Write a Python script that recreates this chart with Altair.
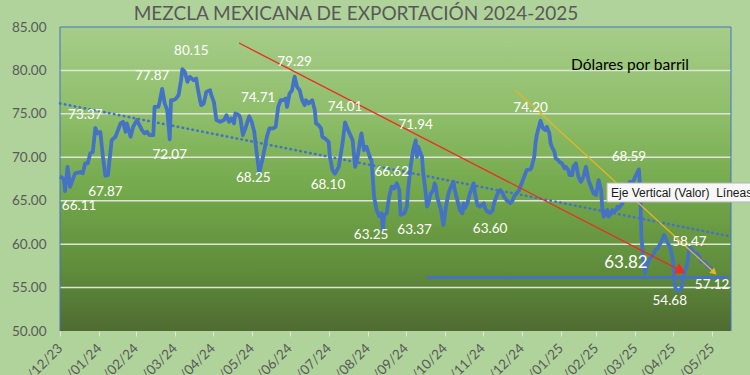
import altair as alt
import pandas as pd

# ---------------- data ----------------
dates = [
    "2023-12-31", "2024-01-03", "2024-01-04", "2024-01-06", "2024-01-08", "2024-01-10", "2024-01-12",
    "2024-01-16", "2024-01-18", "2024-01-20", "2024-01-22", "2024-01-24", "2024-01-26", "2024-01-28",
    "2024-01-30", "2024-02-01", "2024-02-03", "2024-02-05", "2024-02-07", "2024-02-10", "2024-02-13",
    "2024-02-15", "2024-02-17", "2024-02-19", "2024-02-21", "2024-02-22", "2024-02-25", "2024-02-27",
    "2024-03-01", "2024-03-03", "2024-03-05", "2024-03-07", "2024-03-09", "2024-03-11", "2024-03-14",
    "2024-03-15", "2024-03-18", "2024-03-19", "2024-03-21", "2024-03-23", "2024-03-25", "2024-03-27",
    "2024-03-28", "2024-03-30", "2024-04-01", "2024-04-03", "2024-04-05", "2024-04-06", "2024-04-08",
    "2024-04-10", "2024-04-12", "2024-04-15", "2024-04-17", "2024-04-18", "2024-04-20", "2024-04-21",
    "2024-04-23", "2024-04-25", "2024-04-28", "2024-04-29", "2024-05-01", "2024-05-03", "2024-05-06",
    "2024-05-09", "2024-05-11", "2024-05-13", "2024-05-15", "2024-05-17", "2024-05-18", "2024-05-21",
    "2024-05-22", "2024-05-24", "2024-05-26", "2024-05-28", "2024-05-29", "2024-05-31", "2024-06-02",
    "2024-06-04", "2024-06-06", "2024-06-09", "2024-06-12", "2024-06-14", "2024-06-17", "2024-06-19",
    "2024-06-21", "2024-06-23", "2024-06-25", "2024-06-27", "2024-06-28", "2024-06-30", "2024-07-02",
    "2024-07-04", "2024-07-06", "2024-07-08", "2024-07-10", "2024-07-12", "2024-07-13", "2024-07-15",
    "2024-07-18", "2024-07-20", "2024-07-21", "2024-07-23", "2024-07-25", "2024-07-26", "2024-07-28",
    "2024-07-31", "2024-08-01", "2024-08-03", "2024-08-05", "2024-08-08", "2024-08-11", "2024-08-13",
    "2024-08-16", "2024-08-19", "2024-08-21", "2024-08-23", "2024-08-25", "2024-08-26", "2024-08-28",
    "2024-08-30", "2024-09-02", "2024-09-03", "2024-09-05", "2024-09-07", "2024-09-09", "2024-09-11",
    "2024-09-12", "2024-09-13", "2024-09-15", "2024-09-17", "2024-09-19", "2024-09-21", "2024-09-23",
    "2024-09-25", "2024-09-26", "2024-09-29", "2024-10-01", "2024-10-02", "2024-10-04", "2024-10-06",
    "2024-10-08", "2024-10-09", "2024-10-10", "2024-10-12", "2024-10-13", "2024-10-14", "2024-10-16",
    "2024-10-17", "2024-10-18", "2024-10-20", "2024-10-22", "2024-10-23", "2024-10-24", "2024-10-25",
    "2024-10-28", "2024-10-30", "2024-11-01", "2024-11-03", "2024-11-05", "2024-11-07", "2024-11-08",
    "2024-11-10", "2024-11-12", "2024-11-14", "2024-11-15", "2024-11-16", "2024-11-18", "2024-11-20",
    "2024-11-23", "2024-11-24", "2024-11-26", "2024-11-28", "2024-12-01", "2024-12-02", "2024-12-04",
    "2024-12-06", "2024-12-08", "2024-12-09", "2024-12-12", "2024-12-14", "2024-12-16", "2024-12-17",
    "2024-12-19", "2024-12-22", "2024-12-24", "2024-12-25", "2024-12-27", "2024-12-29", "2024-12-31",
    "2025-01-02", "2025-01-04", "2025-01-07", "2025-01-08", "2025-01-10", "2025-01-11", "2025-01-12",
    "2025-01-13", "2025-01-15", "2025-01-17", "2025-01-19", "2025-01-20", "2025-01-22", "2025-01-23",
    "2025-01-24", "2025-01-26", "2025-01-27", "2025-01-29", "2025-01-30", "2025-02-01", "2025-02-03",
    "2025-02-04", "2025-02-06", "2025-02-07", "2025-02-09", "2025-02-10", "2025-02-12", "2025-02-13",
    "2025-02-14", "2025-02-16", "2025-02-18", "2025-02-20", "2025-02-21", "2025-02-22", "2025-02-24",
    "2025-02-25", "2025-02-26", "2025-02-28", "2025-03-01", "2025-03-02", "2025-03-04", "2025-03-05",
    "2025-03-06", "2025-03-08", "2025-03-09", "2025-03-10", "2025-03-12", "2025-03-13", "2025-03-14",
    "2025-03-16", "2025-03-17", "2025-03-18", "2025-03-19", "2025-03-21", "2025-03-22", "2025-03-23",
    "2025-03-25", "2025-03-26", "2025-03-27", "2025-03-29", "2025-03-30", "2025-03-31", "2025-04-02",
    "2025-04-03", "2025-04-04", "2025-04-05", "2025-04-06", "2025-04-07", "2025-04-08", "2025-04-09",
    "2025-04-11", "2025-04-13", "2025-04-15", "2025-04-16", "2025-04-18", "2025-04-20", "2025-04-22",
    "2025-04-23", "2025-04-24", "2025-04-26", "2025-04-28", "2025-04-30", "2025-05-01", "2025-05-02",
    "2025-05-03", "2025-05-06", "2025-05-07", "2025-05-09", "2025-05-10", "2025-05-11", "2025-05-13",
    "2025-05-14", "2025-05-15", "2025-05-17", "2025-05-18", "2025-05-19", "2025-05-21", "2025-05-22",
    "2025-05-23", "2025-05-26", "2025-05-27", "2025-05-29", "2025-05-30", "2025-05-31",
]
prices = [
    67.8, 67.5, 66.11, 68.9, 66.6, 67.4, 68.15,
    68.3, 68.15, 69.3, 69.3, 70.45, 70.6, 73.37,
    72.75, 72.9, 70.1, 67.87, 67.95, 71.98, 72.36,
    73.13, 73.9, 74.08, 72.93, 73.9, 72.36, 73.5,
    74.28, 73.7, 73.13, 72.75, 72.93, 72.55, 72.55,
    75.8, 75.8, 76.38, 77.87, 76.2, 75.43, 72.07,
    76.57, 76.57, 76.77, 77.15, 78.87, 80.15, 79.83,
    78.68, 79.25, 78.87, 79.07, 78.1, 76.57, 76.0,
    76.2, 77.53, 77.72, 77.15, 76.38, 74.28, 74.08,
    74.28, 74.85, 74.08, 74.47, 73.9, 75.05, 74.85,
    74.47, 72.55, 73.32, 74.28, 74.71, 74.08, 72.93,
    70.45, 68.25, 70.06, 72.36, 73.32, 73.32, 73.5,
    75.8, 76.57, 76.57, 76.77, 75.8, 77.34, 77.72,
    79.29, 78.1, 77.72, 76.57, 76.0, 76.57, 76.2,
    76.57, 75.43, 73.9, 73.7, 73.32, 72.36, 72.17,
    71.78, 70.06, 68.53, 68.10, 68.9, 71.6, 74.01,
    72.93, 71.98, 68.9, 70.06, 71.98, 72.75, 70.83,
    71.21, 69.87, 69.68, 65.46, 63.93, 63.25, 63.55,
    61.63, 63.36, 63.55, 65.46, 66.62, 66.42, 67.0,
    66.23, 63.37, 63.55, 64.31, 66.23, 68.9, 70.83,
    71.94, 70.06, 71.21, 70.45, 70.06, 68.15, 65.85,
    64.31, 64.7, 65.85, 66.23, 67.0, 66.61, 65.46,
    63.93, 62.21, 64.31, 65.85, 66.61, 67.18, 66.23,
    65.08, 63.93, 63.55, 64.7, 64.13, 64.7, 65.85,
    67.0, 65.85, 64.5, 64.31, 64.7, 64.13, 63.74,
    63.60, 63.9, 64.7, 65.85, 66.23, 65.85, 65.46,
    65.08, 64.7, 65.08, 65.46, 65.85, 66.23, 67.0,
    67.76, 68.53, 68.61, 68.9, 70.06, 71.6, 72.55,
    73.13, 74.20, 73.32, 73.13, 73.5, 72.75, 71.6,
    71.21, 70.64, 69.87, 69.68, 69.48, 69.3, 68.72,
    68.9, 68.53, 67.95, 67.95, 68.9, 69.3, 68.53,
    67.76, 67.18, 67.76, 68.9, 68.15, 67.38, 66.61,
    66.23, 65.85, 65.66, 66.42, 67.38, 66.23, 64.13,
    63.16, 63.55, 63.93, 63.16, 63.55, 63.93, 63.74,
    63.93, 64.31, 64.13, 64.31, 64.7, 65.46, 65.85,
    66.23, 67.0, 67.18, 67.0, 67.38, 67.76, 68.33,
    68.59, 66.2, 60.86, 58.95, 57.41, 56.65, 57.41,
    58.18, 58.56, 58.95, 59.33, 59.53, 60.1, 60.68,
    61.06, 60.68, 60.1, 59.53, 58.18, 56.26, 54.93,
    54.68, 54.68, 55.11, 56.65, 57.23, 57.41, 59.6,
    59.53, 59.33, 58.95, 58.76, 58.95, 58.56, 57.99,
    57.99, 57.87, 57.41, 57.41, 57.23, 57.12,
]

ann_dates = ["2024-01-04", "2024-01-28", "2024-02-05", "2024-03-21", "2024-03-27", "2024-04-06",
             "2024-05-29", "2024-06-06", "2024-07-04", "2024-08-13", "2024-08-05", "2024-09-09",
             "2024-09-19", "2024-09-26", "2024-10-08", "2024-12-06", "2025-01-15", "2025-04-03",
             "2025-05-03", "2025-05-13", "2025-05-31"]
ann_values = [66.11, 73.37, 67.87, 77.87, 72.07, 80.15,
              74.71, 68.25, 79.29, 74.01, 68.10, 63.25,
              66.62, 63.37, 71.94, 63.60, 74.20, 68.59,
              54.68, 58.47, 57.12]
ann_pos = ["SE", "NW", "S", "NW", "S", "NE",
           "NE", "SW0", "N", "N", "SW", "SW2",
           "N", "SE", "N", "S", "NW", "NW",
           "SW", "N", "S"]
big_ann_date = ["2025-04-07"]
big_ann_value = [63.82]

trend_dates = ["2023-12-31", "2025-06-13"]
trend_values = [76.2, 60.94]
red_dates = ["2024-05-21", "2025-05-05"]
red_values = [83.16, 57.03]
yellow_dates = ["2024-12-26", "2025-06-01"]
yellow_values = [77.72, 56.84]
support_dates = ["2024-10-17", "2025-06-13"]
support_values = [56.15, 56.15]

grid_values = [55, 60, 65, 70, 75, 80]
y_ticks = [50, 55, 60, 65, 70, 75, 80, 85]
tick_dates = ["2023-12-31", "2024-01-31", "2024-02-29", "2024-03-31", "2024-04-30", "2024-05-31",
              "2024-06-30", "2024-07-31", "2024-08-31", "2024-09-30", "2024-10-31", "2024-11-30",
              "2024-12-31", "2025-01-31", "2025-02-28", "2025-03-31", "2025-04-30", "2025-05-31"]
x_domain = ["2023-12-31", "2025-06-15"]

TITLE = "MEZCLA MEXICANA DE EXPORTACIÓN 2024-2025"
SUBTITLE = "Dólares por barril"
TOOLTIP = "Eje Vertical (Valor)\u00a0\u00a0Líneas"

# ---------------- layout / style ----------------
W, H = 671, 304
FONT = "Lato"
BLUE = "#4472c4"
GRAY_TXT = "#595959"


def dt(s):
    y, m, d = (int(p) for p in s.split("-"))
    return alt.DateTime(year=y, month=m, date=d, utc=True)


x_scale = alt.Scale(type="utc", domain=[dt(s) for s in x_domain])
y_scale = alt.Scale(domain=[50, 85], nice=False, zero=False)
x_axis = alt.Axis(values=[dt(s) for s in tick_dates], format="%d/%m/%y", labelAngle=315,
                  labelAlign="right", labelBaseline="middle", labelFont=FONT, labelFontSize=13.5,
                  labelColor=GRAY_TXT, tickColor="#dfe8d8", tickSize=5, labelPadding=10,
                  domain=False, grid=False, title=None, labelOverlap=False)
y_axis = alt.Axis(values=y_ticks, format=".2f", labelFont=FONT, labelFontSize=13.5,
                  labelColor=GRAY_TXT, ticks=False, tickSize=0, labelPadding=14, domain=False,
                  grid=False, title=None)


def X(field="date"):
    return alt.X(f"{field}:T", scale=x_scale, axis=x_axis)


def Y(field="value"):
    return alt.Y(f"{field}:Q", scale=y_scale, axis=y_axis)


series = pd.DataFrame({"date": dates, "value": prices})
ann = pd.DataFrame({"date": ann_dates, "value": ann_values, "pos": ann_pos,
                    "label": [f"{v:.2f}" for v in ann_values]})
big_ann = pd.DataFrame({"date": big_ann_date, "value": big_ann_value,
                        "label": [f"{v:.2f}" for v in big_ann_value]})
trend = pd.DataFrame({"date": trend_dates, "value": trend_values})
red = pd.DataFrame({"date": red_dates, "value": red_values})
yellow = pd.DataFrame({"date": yellow_dates, "value": yellow_values})
support = pd.DataFrame({"date": support_dates, "value": support_values})
grid = pd.DataFrame({"value": grid_values})
one = pd.DataFrame({"k": [0]})

gradient = alt.Gradient(
    gradient="linear",
    stops=[alt.GradientStop(color="#a6cd89", offset=0),
           alt.GradientStop(color="#8dbd68", offset=0.3),
           alt.GradientStop(color="#72a74a", offset=0.55),
           alt.GradientStop(color="#5f8c3b", offset=0.8),
           alt.GradientStop(color="#4f6b31", offset=1)],
    x1=0, x2=0, y1=0, y2=1,
)

bg = alt.Chart(one).mark_rect(color=gradient).encode(
    x=alt.value(0), x2=alt.value(W), y=alt.value(0), y2=alt.value(H))

grid_rules = alt.Chart(grid).mark_rule(color="#dde5d6", strokeWidth=1.5).encode(y=Y())

support_line = alt.Chart(support).mark_line(color=BLUE, strokeWidth=3).encode(x=X(), y=Y())

line = alt.Chart(series).mark_line(color=BLUE, strokeWidth=3.8, strokeJoin="round").encode(
    x=X(), y=Y())

trend_line = alt.Chart(trend).mark_line(color=BLUE, strokeWidth=2.6, strokeDash=[0.5, 4.5],
                                        strokeCap="round").encode(x=X(), y=Y())

red_line = alt.Chart(red).mark_line(color="#ee2b24", strokeWidth=1.3).encode(x=X(), y=Y())
red_head = alt.Chart(red.tail(1)).mark_point(shape="triangle", filled=True, color="#ee2b24",
                                             size=130, angle=117, opacity=1).encode(x=X(), y=Y())
yellow_line = alt.Chart(yellow).mark_line(color="#e3b52c", strokeWidth=1.3).encode(x=X(), y=Y())
yellow_head = alt.Chart(yellow.tail(1)).mark_point(shape="triangle", filled=True, color="#e3b52c",
                                                   size=55, angle=132, opacity=1).encode(x=X(), y=Y())

offsets = {"N": (0, -15), "S": (0, 16), "NW": (-10, -13), "NE": (9, -18),
           "SW": (-7, 11), "SE": (14, 15), "SW0": (-6, 6), "SW2": (-8, 19)}
ann_layers = []
for p, (ddx, ddy) in offsets.items():
    ann_layers.append(
        alt.Chart(ann).transform_filter(alt.datum.pos == p).mark_text(
            font=FONT, fontSize=13.5, color="white", dx=ddx, dy=ddy, align="center",
            baseline="middle").encode(x=X(), y=Y(), text="label:N"))
big_label = alt.Chart(big_ann).mark_text(font=FONT, fontSize=17, color="white", dx=-18, dy=52,
                                         align="center", baseline="middle").encode(
    x=X(), y=Y(), text="label:N")

border_left = alt.Chart(one).mark_rule(color=BLUE, strokeWidth=1).encode(
    x=alt.value(0), y=alt.value(0), y2=alt.value(H))
border_right = alt.Chart(one).mark_rule(color=BLUE, strokeWidth=1).encode(
    x=alt.value(W), y=alt.value(0), y2=alt.value(H))
border_top = alt.Chart(one).mark_rule(color=BLUE, strokeWidth=1).encode(
    x=alt.value(0), x2=alt.value(W), y=alt.value(0))

title = alt.Chart(pd.DataFrame({"t": [TITLE]})).mark_text(
    font=FONT, fontSize=19, color=GRAY_TXT, align="center", baseline="alphabetic").encode(
    text="t:N", x=alt.value(296), y=alt.value(-7))
subtitle = alt.Chart(pd.DataFrame({"t": [SUBTITLE]})).mark_text(
    font=FONT, fontSize=15.5, color="black", align="center", baseline="middle").encode(
    text="t:N", x=alt.value(570), y=alt.value(38))

tip_box = alt.Chart(one).mark_rect(fill="#f7f7f7", stroke="#b5b5b5", strokeWidth=1).encode(
    x=alt.value(547), x2=alt.value(720), y=alt.value(156), y2=alt.value(175))
tip_text = alt.Chart(pd.DataFrame({"t": [TOOLTIP]})).mark_text(
    font="Liberation Sans", fontSize=12, color="#1a1a1a", align="left", baseline="alphabetic").encode(
    text="t:N", x=alt.value(551), y=alt.value(170))

chart = alt.layer(
    bg, grid_rules, support_line, line, trend_line, red_line, yellow_line, red_head, yellow_head,
    *ann_layers, big_label, border_left, border_right, border_top, title, subtitle, tip_box, tip_text,
).properties(
    width=W, height=H,
    autosize=alt.AutoSizeParams(type="none"),
    padding={"left": 60, "top": 27, "right": 19, "bottom": 44},
).configure(background="#b0d39b").configure_view(stroke=None)

chart.save("out.html", embed_options={"renderer": "svg", "actions": False})
